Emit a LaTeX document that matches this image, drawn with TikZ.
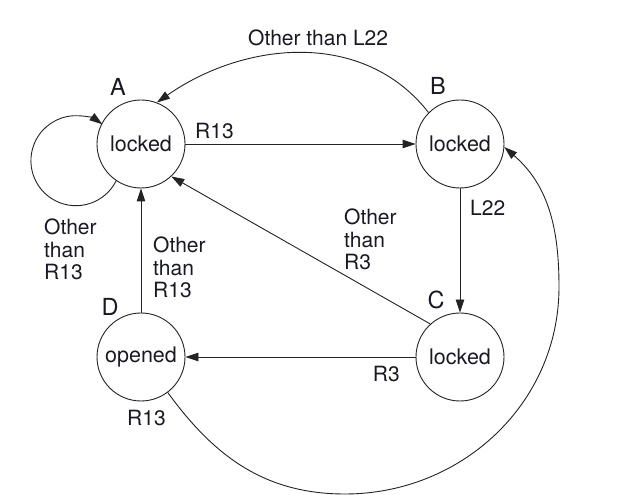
\documentclass[tikz,border=0pt]{standalone}
\usepackage{fontspec}
\setmainfont{TeX Gyre Heros}
\usepackage{tikz}
\usetikzlibrary{arrows.meta}
\definecolor{inkline}{RGB}{35,35,35}
\definecolor{inktext}{RGB}{25,25,35}

\begin{document}
\begin{tikzpicture}[x=1pt, y=1pt,
  state/.style={circle, draw=inkline, line width=0.9pt, minimum size=88pt, inner sep=0pt,
    font=\fontsize{21.5}{22}\selectfont, text=inktext},
  tag/.style={font=\fontsize{23.5}{26}\selectfont, text=inktext, inner sep=0pt},
  lbl/.style={font=\fontsize{21}{22.5}\selectfont, text=inktext, align=left, inner sep=0pt},
  trans/.style={draw=inkline, line width=0.9pt, -{Triangle[length=13pt, width=8.5pt]}}]
\useasboundingbox (0,0) rectangle (630,495);

% states
\node[state] (A) at (141,351) {locked};
\node[state] (B) at (460,351) {locked};
\node[state] (C) at (460,138) {locked};
\node[state] (D) at (141,138) {opened};

\node[tag] (tA) at (118,408) {A};
\node[tag] (tB) at (438,409) {B};
\node[tag] (tC) at (436,195) {C};
\node[tag] (tD) at (110,188) {D};

% transitions
\draw[trans] (A) -- (B);
\draw[trans] (B) -- (C);
\draw[trans] (C) -- (D);
\draw[trans] (D) -- (A);
\draw[trans] (C.132) -- (A.-47);
\draw[trans] (A.236) arc[start angle=-26.6, end angle=-306, radius=45];
\draw[trans] (B.135) to[out=128, in=35] (A.69);
\draw[trans] (D.-53) to[out=-54, in=180] (345,1)
  to[out=0, in=-90] (559,208) to[out=90, in=-41] (B.-4);

% labels
\node[lbl, anchor=north west] (lAB) at (195,372) {R13};
\node[lbl, anchor=north west] (lBC) at (470,295) {L22};
\node[lbl, anchor=north east] (lCD) at (400,129) {R3};
\node[lbl, anchor=north west] (lDA) at (153,258) {Other\\than\\R13};
\node[lbl, anchor=north west] (lCA) at (344,286) {Other\\than\\R3};
\node[lbl, anchor=north west] (lAA) at (44,276) {Other\\than\\R13};
\node[lbl, anchor=north west] (lBA) at (248,465) {Other than L22};
\node[lbl, anchor=north west] (lDB) at (127,85) {R13};
\end{tikzpicture}
\end{document}
